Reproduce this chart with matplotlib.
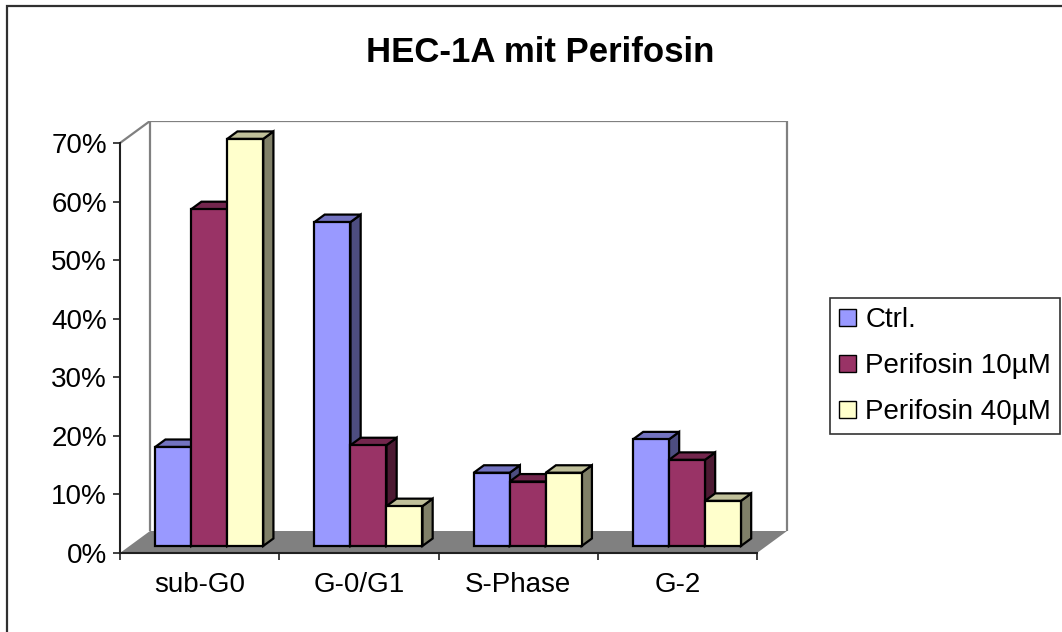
import matplotlib
matplotlib.use("Agg")
import matplotlib.pyplot as plt
from matplotlib.patches import Polygon, Rectangle, Patch

plt.rcParams['font.family'] = ['Liberation Sans', 'DejaVu Sans']

# ---- data -------------------------------------------------------------
categories = ["sub-G0", "G-0/G1", "S-Phase", "G-2"]
series_names = ["Ctrl.", "Perifosin 10µM", "Perifosin 40µM"]
ctrl = [16.9, 55.3, 12.5, 18.2]
perifosin_10 = [57.5, 17.2, 11.0, 14.7]
perifosin_40 = [69.5, 6.8, 12.5, 7.7]
y_ticks = [0, 10, 20, 30, 40, 50, 60, 70]
title = "HEC-1A mit Perifosin"

series_values = [ctrl, perifosin_10, perifosin_40]
# front, top, side shading for each series
face_colors = [
    ("#9999FF", "#7373C0", "#4D4D80"),
    ("#993366", "#73264D", "#4D1A33"),
    ("#FFFFCC", "#C0C09A", "#808068"),
]

# ---- figure / axes ----------------------------------------------------
W, H = 1062, 632
fig = plt.figure(figsize=(W / 100, H / 100), dpi=100)
fig.patch.set_facecolor("white")

# plot box in pixel terms: left wall at x=120, floor front at y=553
px_per_cat = 159.25
px_per_pct = 5.857
ax_left, ax_right, ax_top, ax_bottom = 120, 792, 121, 553
ax = fig.add_axes([ax_left / W, 1 - ax_bottom / H,
                   (ax_right - ax_left) / W, (ax_bottom - ax_top) / H])
ax.set_xlim(0, (ax_right - ax_left) / px_per_cat)
ax.set_ylim(0, (ax_bottom - ax_top) / px_per_pct)
ax.patch.set_visible(False)

n_cat = len(categories)
ymax = y_ticks[-1]
DX = 30 / px_per_cat     # depth offset in category units
DY = 22 / px_per_pct     # depth offset in percent units
wall_grey = "#808080"

# side (left) wall
ax.add_patch(Polygon([(0, 0), (DX, DY), (DX, ymax + DY), (0, ymax)],
                     closed=True, facecolor="white", edgecolor="none", zorder=1))
# back wall
ax.add_patch(Polygon([(DX, DY), (n_cat + DX, DY), (n_cat + DX, ymax + DY), (DX, ymax + DY)],
                     closed=True, facecolor="white", edgecolor="none", zorder=1))
# floor
ax.add_patch(Polygon([(0, 0), (n_cat, 0), (n_cat + DX, DY), (DX, DY)],
                     closed=True, facecolor=wall_grey, edgecolor="none", zorder=2))
# wall edges
wall_kw = dict(color=wall_grey, lw=1.6, zorder=3, solid_capstyle="butt")
ax.plot([0, DX, n_cat + DX, n_cat + DX], [ymax, ymax + DY, ymax + DY, DY], **wall_kw)
ax.plot([DX, DX], [DY, ymax + DY], **wall_kw)

# ---- bars -------------------------------------------------------------
bar_w = 36 / px_per_cat
f0, f1 = 0.32, 0.66      # front / back depth fraction of the bars
d = f1 - f0
edge_kw = dict(edgecolor="black", linewidth=1.6, joinstyle="miter")
for i in range(n_cat):
    for j, vals in enumerate(series_values):
        v = vals[i]
        front, top, side = face_colors[j]
        x0 = i + 0.5 + (j - 1.5) * bar_w + f0 * DX
        yb = f0 * DY
        x1 = x0 + bar_w
        ox, oy = d * DX, d * DY
        z = 5 + i * 3 + j
        ax.add_patch(Polygon([(x1, yb), (x1, yb + v), (x1 + ox, yb + v + oy), (x1 + ox, yb + oy)],
                             closed=True, facecolor=side, zorder=z, **edge_kw))
        ax.add_patch(Polygon([(x0, yb + v), (x1, yb + v), (x1 + ox, yb + v + oy), (x0 + ox, yb + v + oy)],
                             closed=True, facecolor=top, zorder=z, **edge_kw))
        ax.add_patch(Rectangle((x0, yb), bar_w, v, facecolor=front, zorder=z, **edge_kw))

# ---- axes lines, ticks, labels ---------------------------------------
for s in ("top", "right"):
    ax.spines[s].set_visible(False)
ax.spines["left"].set_bounds(0, ymax)
ax.spines["bottom"].set_bounds(0, n_cat)
for s in ("left", "bottom"):
    ax.spines[s].set_color("#202020")
    ax.spines[s].set_linewidth(1.5)
    ax.spines[s].set_zorder(40)

label_size = 20
ax.set_yticks(y_ticks)
ax.set_yticklabels([f"{t}%" for t in y_ticks])
ax.tick_params(axis="y", direction="out", length=5, width=1.2, color="#202020",
               pad=4.5, labelsize=label_size)
ax.set_xticks(range(n_cat + 1))
ax.set_xticklabels([])
ax.set_xticks([i + 0.5 for i in range(n_cat)], minor=True)
ax.set_xticklabels(categories, minor=True)
ax.tick_params(axis="x", which="major", direction="out", length=5, width=1.2, color="#202020")
ax.tick_params(axis="x", which="minor", length=0, pad=14, labelsize=label_size)

# ---- title ------------------------------------------------------------
fig.text(540 / W, 1 - 52 / H, title, ha="center", va="center",
         fontsize=25, fontweight="bold")

# ---- legend -----------------------------------------------------------
handles = [Patch(facecolor=c[0], edgecolor="black", linewidth=1.0) for c in face_colors]
leg = fig.legend(handles, series_names, loc="center left",
                 bbox_to_anchor=(830 / W, 1 - 366 / H), bbox_transform=fig.transFigure,
                 fontsize=label_size, frameon=True, fancybox=False, shadow=False,
                 handlelength=0.58, handleheight=0.58, handletextpad=0.35,
                 borderpad=0.34, labelspacing=0.72, borderaxespad=0)
leg.get_frame().set_edgecolor("black")
leg.get_frame().set_linewidth(1.2)

# ---- outer chart border ---------------------------------------------
fig.add_artist(Rectangle((7 / W, -0.2), 1.5, 1.2 - 6 / H, transform=fig.transFigure,
                         fill=False, edgecolor="#303030", linewidth=1.6))

fig.savefig("out.png", dpi=100)
